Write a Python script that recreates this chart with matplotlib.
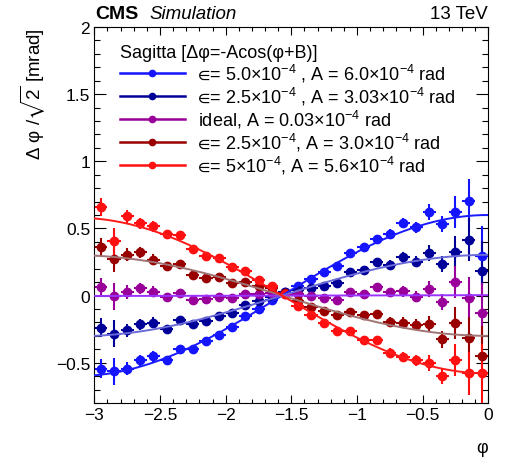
import numpy as np
import matplotlib
matplotlib.use("Agg")
import matplotlib.pyplot as plt
from matplotlib.lines import Line2D
from matplotlib.ticker import MultipleLocator, FuncFormatter

plt.rcParams['font.family'] = ['Liberation Sans', 'DejaVu Sans']
plt.rcParams['mathtext.fontset'] = 'custom'
plt.rcParams['mathtext.rm'] = 'Liberation Sans'
plt.rcParams['mathtext.it'] = 'Liberation Sans:italic'
plt.rcParams['mathtext.bf'] = 'Liberation Sans:bold'
plt.rcParams['mathtext.fallback'] = 'stixsans'

# bin centres in phi (30 bins from -3 to 0)
phi = np.arange(30) * 0.1 - 2.95
phi_err = np.full(30, 0.05)

# stat errors per bin (mrad), same for all samples
y_err = [0.07, 0.10, 0.05, 0.04, 0.04, 0.025, 0.025, 0.025, 0.02, 0.02,
         0.02, 0.02, 0.02, 0.02, 0.02, 0.02, 0.02, 0.02, 0.02, 0.025,
         0.025, 0.03, 0.035, 0.04, 0.04, 0.06, 0.06, 0.12, 0.16, 0.22]

blue = [-0.545, -0.565, -0.545, -0.483, -0.453, -0.478, -0.401, -0.396, -0.336, -0.295,
        -0.235, -0.149, -0.101, -0.030, 0.025, 0.074, 0.124, 0.176, 0.217, 0.318,
        0.362, 0.424, 0.458, 0.540, 0.508, 0.624, 0.533, 0.624, 0.706, 0.297]
dark_blue = [-0.240, -0.285, -0.260, -0.215, -0.203, -0.247, -0.181, -0.215, -0.192, -0.153,
             -0.129, -0.067, -0.042, -0.010, 0.025, 0.040, 0.058, 0.074, 0.090, 0.178,
             0.192, 0.250, 0.228, 0.285, 0.253, 0.317, 0.235, 0.327, 0.416, 0.186]
ideal = [0.062, -0.005, 0.025, 0.055, 0.030, -0.012, 0.018, -0.032, -0.025, -0.007,
         -0.015, 0.015, 0.015, 0.018, 0.013, 0.013, 0.000, -0.015, -0.035, 0.025,
         0.015, 0.065, 0.025, 0.033, -0.007, 0.050, -0.045, 0.100, -0.019, -0.130]
dark_red = [0.360, 0.273, 0.305, 0.322, 0.267, 0.223, 0.235, 0.154, 0.131, 0.136,
            0.094, 0.104, 0.070, 0.055, 0.020, -0.040, -0.082, -0.118, -0.142, -0.126,
            -0.142, -0.138, -0.198, -0.203, -0.218, -0.210, -0.327, -0.203, -0.317, -0.450]
red = [0.660, 0.404, 0.590, 0.538, 0.516, 0.458, 0.451, 0.347, 0.293, 0.278,
       0.211, 0.182, 0.119, 0.068, 0.010, -0.074, -0.146, -0.205, -0.267, -0.262,
       -0.334, -0.330, -0.428, -0.458, -0.483, -0.500, -0.600, -0.480, -0.580, -0.580]

# fitted -A*cos(phi+B), A in mrad
fit_A = [0.60, 0.303, 0.003, -0.30, -0.58]
fit_B = [np.pi, np.pi, np.pi, np.pi, np.pi]

labels = [r"$\!\!\in\!$= 5.0×10$^{-4}$ , A = 6.0×10$^{-4}$ rad",
          r"$\!\!\in\!$= 2.5×10$^{-4}$ , A = 3.03×10$^{-4}$ rad",
          r"ideal, A = 0.03×10$^{-4}$ rad",
          r"$\!\!\in\!$= 2.5×10$^{-4}$, A = 3.0×10$^{-4}$ rad",
          r"$\!\!\in\!$= 5×10$^{-4}$, A = 5.6×10$^{-4}$ rad"]
point_colors = ['#1414ff', '#000099', '#990099', '#990000', '#ff1010']
fit_colors = ['#1a1aff', '#6a6ad8', '#9933ff', '#a07474', '#ff1a1a']
series = [blue, dark_blue, ideal, dark_red, red]

fig = plt.figure(figsize=(5.1, 4.64), dpi=100)
ax = fig.add_axes([0.185, 0.1293, 0.7725, 0.8104])

xf = np.linspace(-3, 0, 300)
for vals, A, B, pc, fc in zip(series, fit_A, fit_B, point_colors, fit_colors):
    ax.errorbar(phi, vals, xerr=phi_err, yerr=y_err, fmt='o', color=pc,
                ms=6, elinewidth=1.5, capsize=0, zorder=2)
    ax.plot(xf, -A * np.cos(xf + B), color=fc, lw=1.4, zorder=3)


def fmt(v, p):
    return '0' if abs(v) < 1e-9 else ('%g' % v).replace('-', '\u2212')


ax.set_xlim(-3, 0)
ax.set_ylim(-0.8, 2)
ax.xaxis.set_major_locator(MultipleLocator(0.5))
ax.xaxis.set_minor_locator(MultipleLocator(0.1))
ax.yaxis.set_major_locator(MultipleLocator(0.5))
ax.yaxis.set_minor_locator(MultipleLocator(0.1))
ax.xaxis.set_major_formatter(FuncFormatter(fmt))
ax.yaxis.set_major_formatter(FuncFormatter(fmt))
ax.tick_params(which='both', direction='in', top=True, right=True, labelsize=12.5, width=0.8)
ax.tick_params(axis='x', which='major', length=5.8, pad=3)
ax.tick_params(axis='x', which='minor', length=2.9)
ax.tick_params(axis='y', which='major', length=8.6, pad=3)
ax.tick_params(axis='y', which='minor', length=4.3)
for s in ax.spines.values():
    s.set_linewidth(0.8)

ax.set_xlabel('φ', fontsize=13, loc='right', labelpad=12)
ax.set_ylabel(r'$\Delta\ \mathrm{φ}\ /\sqrt{2}$ [mrad]', fontsize=13.5, loc='top', labelpad=6)

handles = [Line2D([], [], color=pc, lw=1.8, marker='o', ms=4.5) for pc in point_colors]
leg = ax.legend(handles, labels, title='Sagitta [Δφ=-Acos(φ+B)]', loc='upper left',
                bbox_to_anchor=(0.065, 0.955), frameon=False, fontsize=13,
                title_fontsize=13, handlelength=3.6, handletextpad=0.7,
                labelspacing=0.05, borderpad=0, borderaxespad=0, alignment='left')

fig.text(0.186, 0.958, 'CMS', fontsize=14, fontweight='bold')
fig.text(0.294, 0.958, 'Simulation', fontsize=13.5, style='italic')
fig.text(0.957, 0.958, '13 TeV', fontsize=13.5, ha='right')

fig.savefig('out.png', dpi=100)
